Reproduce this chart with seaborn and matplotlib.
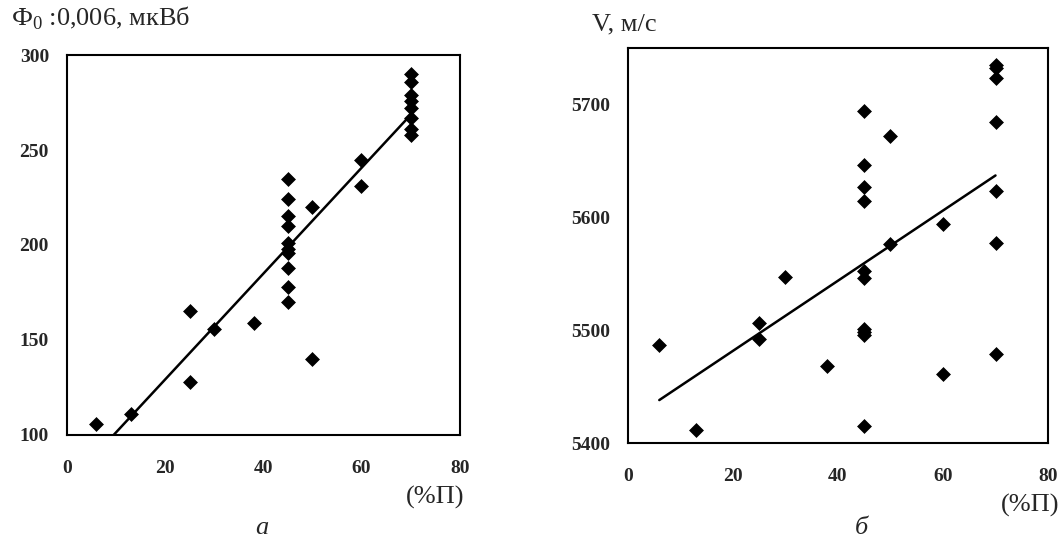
import matplotlib
matplotlib.use("Agg")
import matplotlib.pyplot as plt
import pandas as pd
import seaborn as sns

# Рис. а: Ф0 от пористости
x_a = [6, 13, 25, 25, 30, 38,
       45, 45, 45, 45, 45, 45, 45, 45, 45, 45,
       50, 50, 60, 60,
       70, 70, 70, 70, 70, 70, 70, 70]
y_a = [106, 111, 165, 128, 156, 159,
       235, 224, 215, 210, 201, 198, 196, 188, 178, 170,
       220, 140, 245, 231,
       290, 286, 279, 276, 272, 267, 261, 258]

# Рис. б: скорость V от пористости
x_b = [6, 13, 25, 25, 30, 38,
       45, 45, 45, 45, 45, 45, 45, 45, 45, 45,
       50, 50, 60, 60,
       70, 70, 70, 70, 70, 70, 70]
y_b = [5487, 5412, 5506, 5492, 5547, 5468,
       5694, 5646, 5627, 5614, 5552, 5546, 5501, 5498, 5496, 5415,
       5672, 5576, 5594, 5461,
       5735, 5732, 5723, 5684, 5623, 5577, 5479]

x_ticks = [0, 20, 40, 60, 80]
y_ticks_a = [100, 150, 200, 250, 300]
y_ticks_b = [5400, 5500, 5600, 5700]

sns.set_style("white")
plt.rcParams['font.family'] = ['Liberation Serif', 'DejaVu Serif']
plt.rcParams['mathtext.fontset'] = 'custom'
plt.rcParams['mathtext.rm'] = 'Liberation Serif'

df_a = pd.DataFrame({'p': x_a, 'f': y_a})
df_b = pd.DataFrame({'p': x_b, 'v': y_b})

fig = plt.figure(figsize=(10.64, 5.45), dpi=100)
ax1 = fig.add_axes([0.063, 0.202, 0.369, 0.697])
ax2 = fig.add_axes([0.590, 0.187, 0.395, 0.725])

sc_kw = dict(s=50, color='black', edgecolor='black', linewidths=0.5, alpha=1)
ln_kw = dict(color='black', linewidth=1.8)

sns.regplot(data=df_a, x='p', y='f', ax=ax1, ci=None, marker='D',
            scatter_kws=sc_kw, line_kws=ln_kw)
sns.regplot(data=df_b, x='p', y='v', ax=ax2, ci=None, marker='D',
            scatter_kws=sc_kw, line_kws=ln_kw)

ax1.set_xlim(0, 80)
ax1.set_ylim(100, 300)
ax1.set_yticks(y_ticks_a)
ax2.set_xlim(0, 80)
ax2.set_ylim(5400, 5750)
ax2.set_yticks(y_ticks_b)

for ax in (ax1, ax2):
    ax.set_xticks(x_ticks)
    ax.set_xlabel('')
    ax.set_ylabel('')
    for sp in ax.spines.values():
        sp.set_visible(True)
        sp.set_color('black')
        sp.set_linewidth(1.5)
    ax.tick_params(axis='both', direction='out', length=3, width=1,
                   color='black', labelsize=14)
    ax.tick_params(axis='x', pad=15)
    ax.tick_params(axis='y', pad=10)
    for lab in ax.get_xticklabels() + ax.get_yticklabels():
        lab.set_fontweight('bold')

fig.text(0.01, 0.967, r'Ф$_{\mathrm{0}}$ :0,006, мкВб', fontsize=19, va='center', ha='left')
fig.text(0.556, 0.955, 'V, м/с', fontsize=19, va='center', ha='left')
fig.text(0.436, 0.088, '(%П)', fontsize=19, va='center', ha='right')
fig.text(0.996, 0.073, '(%П)', fontsize=19, va='center', ha='right')
fig.text(0.246, 0.032, 'а', fontsize=19, style='italic', va='center', ha='center')
fig.text(0.810, 0.032, 'б', fontsize=19, style='italic', va='center', ha='center')

fig.savefig('out.png', dpi=100, facecolor='white')
